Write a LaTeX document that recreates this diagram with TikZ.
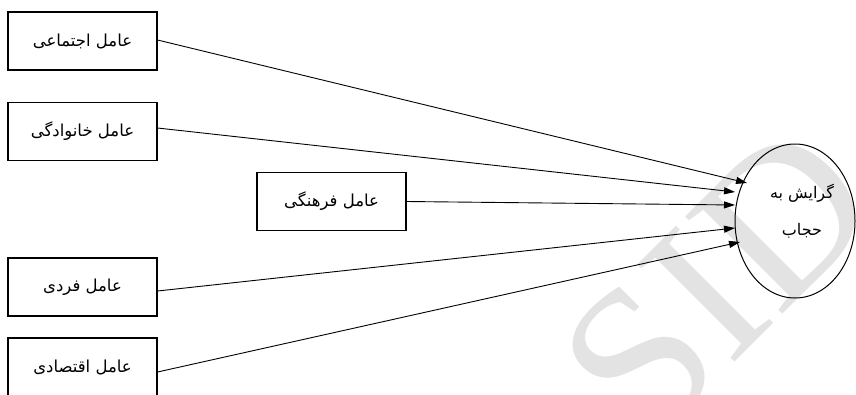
\documentclass[tikz,border=0pt]{standalone}
\usepackage{fontspec}
\setmainfont{Liberation Serif}
\newfontfamily\arabicfont[Script=Arabic]{DejaVu Sans}
\TeXXeTstate=1
\usetikzlibrary{shapes.geometric,arrows.meta}
\begin{document}
\begin{tikzpicture}[x=1pt,y=-1pt,
  box/.style={draw, line width=1.1pt, minimum width=149pt, minimum height=58pt, inner sep=0pt,
    font=\arabicfont\fontsize{16.5}{19}\selectfont},
  arr/.style={line width=0.9pt, -{Triangle[length=11pt,width=7pt]}},
  wmark/.style={text=black!11, font=\fontsize{210}{210}\selectfont, inner sep=0pt}
]
\clip (0,0) rectangle (856,394);
\useasboundingbox (0,0) rectangle (856,394);
\fill[white] (0,0) rectangle (856,394);
% watermark
\node[wmark, rotate=45] (wm) at (718,282) {SID};
% boxes
\node[box] (b1) at (82.5,41) {\beginR عامل اجتماعی\endR};
\node[box] (b2) at (82.5,131.5) {\beginR عامل خانوادگی\endR};
\node[box] (b3) at (331.5,201.5) {\beginR عامل فرهنگی\endR};
\node[box] (b4) at (82.5,287) {\beginR عامل فردی\endR};
\node[box] (b5) at (82.5,367) {\beginR عامل اقتصادی\endR};
% target
\node[draw, ellipse, line width=1pt, minimum width=120pt, minimum height=154pt, inner sep=0pt] (g) at (795,221) {};
\node[font=\arabicfont\fontsize{16}{37}\selectfont, align=center, inner sep=0pt] (gt) at (802,211)
  {\beginR گرایش به\endR\\\beginR حجاب\endR};
% arrow tips on the ellipse
\coordinate (t1) at (747,183);
\coordinate (t2) at (735,192);
\coordinate (t3) at (735,205);
\coordinate (t4) at (735,228);
\coordinate (t5) at (740,242);
\draw[arr] ([yshift=1pt]b1.east) -- (t1);
\draw[arr] ([yshift=3.5pt]b2.east) -- (t2);
\draw[arr] (b3.east) -- (t3);
\draw[arr] ([yshift=-4pt]b4.east) -- (t4);
\draw[arr] ([yshift=-5pt]b5.east) -- (t5);
\end{tikzpicture}
\end{document}
